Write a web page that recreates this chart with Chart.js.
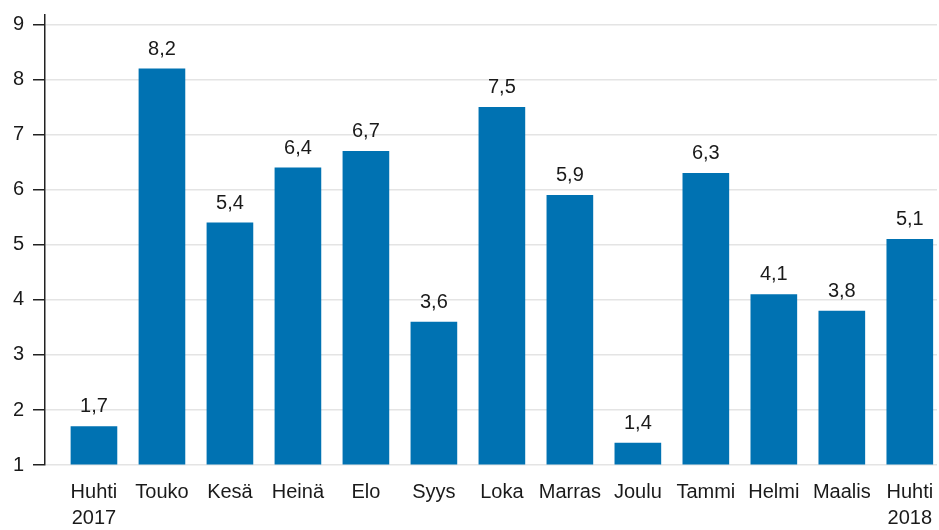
<!DOCTYPE html>
<html>
<head>
<meta charset="utf-8">
<script src="https://cdn.jsdelivr.net/npm/chart.js@4/dist/chart.umd.min.js"></script>
<style>
    html, body { margin: 0; padding: 0; background: #fff; }
    #wrap { width: 939px; height: 530px; }
</style>
</head>
<body>
<div id="wrap"><canvas id="chart"></canvas></div>
<script>
const months = [
    ['Huhti', '2017'], 'Touko', 'Kesä', 'Heinä', 'Elo', 'Syys', 'Loka',
    'Marras', 'Joulu', 'Tammi', 'Helmi', 'Maalis', ['Huhti', '2018']
];
const values = [1.7, 8.2, 5.4, 6.4, 6.7, 3.6, 7.5, 5.9, 1.4, 6.3, 4.1, 3.8, 5.1];
const yTicks = [1, 2, 3, 4, 5, 6, 7, 8, 9];

const fmt = v => v.toFixed(1).replace('.', ',');

// value labels above each bar
const barLabels = {
    id: 'barLabels',
    afterDatasetsDraw(chart) {
        const ctx = chart.ctx;
        const meta = chart.getDatasetMeta(0);
        ctx.save();
        ctx.font = '20px "Liberation Sans", Arial, sans-serif';
        ctx.fillStyle = '#1a1a1a';
        ctx.textAlign = 'center';
        ctx.textBaseline = 'alphabetic';
        meta.data.forEach((bar, i) => {
            ctx.fillText(fmt(values[i]), bar.x, bar.y - 14);
        });
        ctx.restore();
    }
};

new Chart(document.getElementById('chart'), {
    type: 'bar',
    data: {
        datasets: [{
            data: values.map((v, i) => ({ x: i, y: v })),
            base: 1,
            backgroundColor: '#0072b2',
            borderWidth: 0,
            barThickness: 46
        }]
    },
    options: {
        responsive: true,
        maintainAspectRatio: false,
        animation: false,
        layout: { padding: { top: 15, left: 0, right: 2, bottom: 0 } },
        plugins: {
            legend: { display: false },
            tooltip: { enabled: false }
        },
        scales: {
            x: {
                type: 'linear',
                offset: false,
                min: -0.72,
                max: 12.4,
                afterBuildTicks: scale => {
                    scale.ticks = months.map((m, i) => ({ value: i }));
                },
                afterFit: scale => {
                    scale.height = 65;
                    scale.paddingLeft = 0;
                    scale.paddingRight = 0;
                },
                grid: { display: false, drawTicks: false },
                border: { display: false },
                ticks: {
                    autoSkip: false,
                    maxRotation: 0,
                    padding: 14,
                    color: '#1a1a1a',
                    font: { size: 20, family: '"Liberation Sans", Arial, sans-serif', lineHeight: 1.3 },
                    callback: value => months[value]
                }
            },
            y: {
                min: 1,
                max: 9.18,
                afterBuildTicks: scale => {
                    scale.ticks = yTicks.map(v => ({ value: v }));
                },
                afterFit: scale => {
                    scale.width = 45;
                    scale.paddingTop = 0;
                    scale.paddingBottom = 0;
                },
                grid: {
                    color: '#e4e4e4',
                    lineWidth: 1.5,
                    tickColor: '#222',
                    tickLength: 12
                },
                border: { color: '#222', width: 1.5 },
                ticks: {
                    padding: 9,
                    color: '#1a1a1a',
                    font: { size: 20, family: '"Liberation Sans", Arial, sans-serif' }
                }
            }
        }
    },
    plugins: [barLabels]
});
</script>
</body>
</html>
